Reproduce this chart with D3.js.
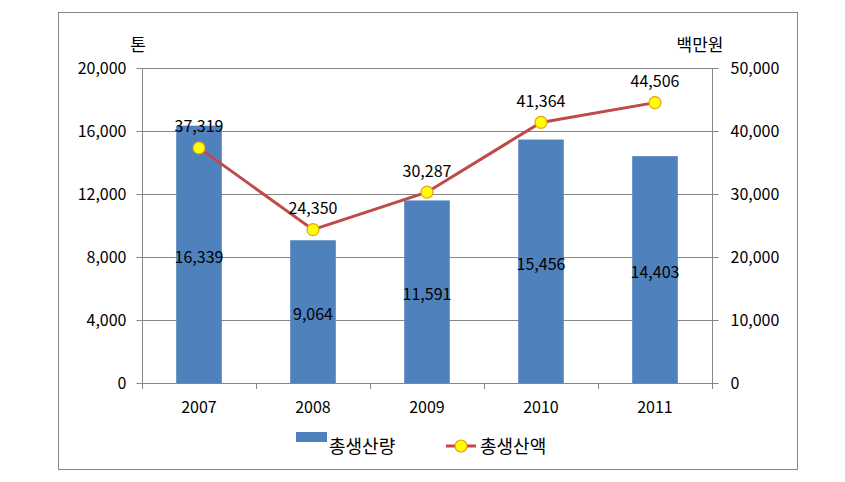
<!DOCTYPE html>
<html><head><meta charset="utf-8">
<script src="https://cdn.jsdelivr.net/npm/d3@7"></script>
<style>body{margin:0;background:#fff}svg text{font-family:"Noto Sans CJK KR","Noto Sans",sans-serif;fill:#000}</style>
</head><body>
<svg id="c" width="845" height="482"></svg>
<script>
const years = ["2007","2008","2009","2010","2011"];
const volume = [16339, 9064, 11591, 15456, 14403];
const amount = [37319, 24350, 30287, 41364, 44506];
const leftTicks = [0, 4000, 8000, 12000, 16000, 20000];
const rightTicks = [0, 10000, 20000, 30000, 40000, 50000];

const svg = d3.select("#c");
const m = {l:142, r:712, t:68, b:383};
svg.append("rect").attr("x",58.5).attr("y",12.5).attr("width",739).attr("height",457)
  .attr("fill","#fff").attr("stroke","#868686").attr("stroke-width",1);

const x = d3.scaleBand().domain(years).range([m.l, m.r]).paddingInner(0.6).paddingOuter(0.3);
const xb = d3.scaleBand().domain(years).range([m.l, m.r]);
const yL = d3.scaleLinear().domain([0,20000]).range([m.b, m.t]);
const yR = d3.scaleLinear().domain([0,50000]).range([m.b, m.t]);
const fmt = d3.format(",");
const FS = 16;

svg.append("g").selectAll("line").data(leftTicks.slice(1)).join("line")
  .attr("x1",m.l).attr("x2",m.r).attr("y1",d=>Math.round(yL(d))+0.5).attr("y2",d=>Math.round(yL(d))+0.5)
  .attr("stroke","#868686");

const axL = svg.append("g").attr("transform",`translate(${m.l+0.5},0)`)
  .call(d3.axisLeft(yL).tickValues(leftTicks).tickFormat(fmt).tickSize(6).tickPadding(10));
const axR = svg.append("g").attr("transform",`translate(${m.r+0.5},0)`)
  .call(d3.axisRight(yR).tickValues(rightTicks).tickFormat(fmt).tickSize(6).tickPadding(12));
const axB = svg.append("g").attr("transform",`translate(0,${m.b+0.5})`)
  .call(d3.axisBottom(xb).tickSize(0).tickPadding(18));
svg.append("g").selectAll("line").data(years.concat(["end"])).join("line")
  .attr("x1",(d,i)=>Math.round(m.l + i*xb.bandwidth())+0.5).attr("x2",(d,i)=>Math.round(m.l + i*xb.bandwidth())+0.5)
  .attr("y1",m.b).attr("y2",m.b+6).attr("stroke","#868686");
[axL,axR,axB].forEach(a=>{
  a.selectAll("path,line").attr("stroke","#868686");
  a.selectAll("text").attr("font-size",FS).attr("fill","#000");
});
axL.select(".domain").attr("d",`M0,${m.t}V${m.b}`);
axR.select(".domain").attr("d",`M0,${m.t}V${m.b}`);
axB.select(".domain").attr("d",`M${m.l},0H${m.r}`);

svg.append("g").selectAll("rect").data(volume).join("rect")
  .attr("x",(d,i)=>x(years[i])).attr("width",x.bandwidth())
  .attr("y",d=>yL(d)).attr("height",d=>m.b-yL(d)).attr("fill","#4F81BD");
svg.append("g").selectAll("text").data(volume).join("text")
  .attr("x",(d,i)=>xb(years[i])+xb.bandwidth()/2).attr("y",d=>(yL(d)+m.b)/2+4)
  .attr("text-anchor","middle").attr("dominant-baseline","middle").attr("font-size",FS).text(d=>fmt(d));

const cx = (d,i)=>xb(years[i])+xb.bandwidth()/2;
svg.append("path").datum(amount)
  .attr("d",d3.line().x(cx).y(d=>yR(d)))
  .attr("fill","none").attr("stroke","#BE4B48").attr("stroke-width",3);
svg.append("g").selectAll("circle").data(amount).join("circle")
  .attr("cx",cx).attr("cy",d=>yR(d)).attr("r",6)
  .attr("fill","#FFFF00").attr("stroke","#E8A010").attr("stroke-width",1.2);
svg.append("g").selectAll("text").data(amount).join("text")
  .attr("x",cx).attr("y",d=>yR(d)-20)
  .attr("text-anchor","middle").attr("dominant-baseline","middle").attr("font-size",FS).text(d=>fmt(d));

svg.append("text").attr("x",138).attr("y",46).attr("text-anchor","middle").attr("dominant-baseline","middle").attr("font-size",17).text("톤");
svg.append("text").attr("x",700).attr("y",46).attr("text-anchor","middle").attr("dominant-baseline","middle").attr("font-size",17).text("백만원");

svg.append("rect").attr("x",296).attr("y",432).attr("width",31).attr("height",10).attr("fill","#4F81BD");
svg.append("text").attr("x",329).attr("y",448).attr("dominant-baseline","middle").attr("font-size",18).text("총생산량");
svg.append("line").attr("x1",446).attr("x2",476).attr("y1",446).attr("y2",446).attr("stroke","#BE4B48").attr("stroke-width",3);
svg.append("circle").attr("cx",461).attr("cy",446).attr("r",6).attr("fill","#FFFF00").attr("stroke","#E8A010").attr("stroke-width",1.2);
svg.append("text").attr("x",480).attr("y",448).attr("dominant-baseline","middle").attr("font-size",18).text("총생산액");
</script>
</body></html>
